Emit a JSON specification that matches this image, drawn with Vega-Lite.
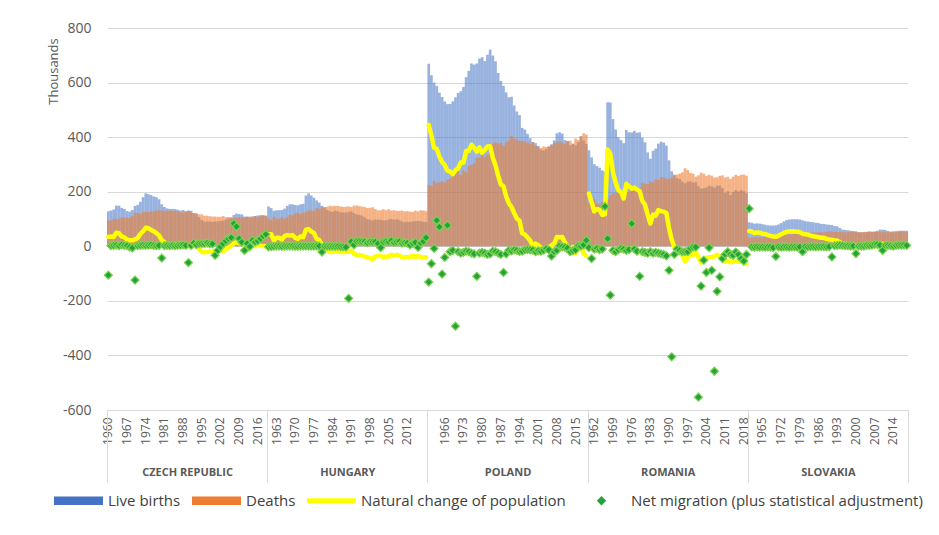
{
"$schema": "https://vega.github.io/schema/vega-lite/v6.json",
"width": 801, "height": 382,
"autosize": {"type": "none"},
"padding": {"left": 107, "top": 28, "right": 31, "bottom": 125},
"background": "white",
"config": {"font": "Open Sans", "view": {"stroke": null}},
"layer": [
{
"data": {"values": [
{"c":"CZ","y":1960,"b":128,"d":94,"n":34,"m":-106},
{"c":"CZ","y":1961,"b":131,"d":95,"n":36,"m":2},
{"c":"CZ","y":1962,"b":135,"d":101,"n":34,"m":3},
{"c":"CZ","y":1963,"b":149,"d":99,"n":50,"m":4},
{"c":"CZ","y":1964,"b":149,"d":101,"n":48,"m":2},
{"c":"CZ","y":1965,"b":141,"d":105,"n":36,"m":5},
{"c":"CZ","y":1966,"b":137,"d":104,"n":33,"m":3},
{"c":"CZ","y":1967,"b":129,"d":105,"n":24,"m":2},
{"c":"CZ","y":1968,"b":127,"d":105,"n":22,"m":-3},
{"c":"CZ","y":1969,"b":133,"d":111,"n":22,"m":-6},
{"c":"CZ","y":1970,"b":148,"d":123,"n":25,"m":-124},
{"c":"CZ","y":1971,"b":152,"d":122,"n":30,"m":2},
{"c":"CZ","y":1972,"b":163,"d":118,"n":45,"m":3},
{"c":"CZ","y":1973,"b":180,"d":125,"n":55,"m":4},
{"c":"CZ","y":1974,"b":194,"d":126,"n":68,"m":3},
{"c":"CZ","y":1975,"b":191,"d":125,"n":66,"m":4},
{"c":"CZ","y":1976,"b":188,"d":128,"n":60,"m":5},
{"c":"CZ","y":1977,"b":183,"d":128,"n":55,"m":3},
{"c":"CZ","y":1978,"b":180,"d":132,"n":48,"m":2},
{"c":"CZ","y":1979,"b":172,"d":132,"n":40,"m":3},
{"c":"CZ","y":1980,"b":154,"d":131,"n":23,"m":-43},
{"c":"CZ","y":1981,"b":144,"d":129,"n":15,"m":2},
{"c":"CZ","y":1982,"b":139,"d":130,"n":9,"m":3},
{"c":"CZ","y":1983,"b":137,"d":131,"n":6,"m":2},
{"c":"CZ","y":1984,"b":137,"d":130,"n":7,"m":3},
{"c":"CZ","y":1985,"b":136,"d":130,"n":6,"m":2},
{"c":"CZ","y":1986,"b":134,"d":129,"n":5,"m":3},
{"c":"CZ","y":1987,"b":131,"d":125,"n":6,"m":4},
{"c":"CZ","y":1988,"b":133,"d":124,"n":9,"m":5},
{"c":"CZ","y":1989,"b":128,"d":128,"n":0,"m":3},
{"c":"CZ","y":1990,"b":131,"d":130,"n":1,"m":-60},
{"c":"CZ","y":1991,"b":130,"d":124,"n":6,"m":3},
{"c":"CZ","y":1992,"b":122,"d":121,"n":1,"m":12},
{"c":"CZ","y":1993,"b":121,"d":118,"n":3,"m":6},
{"c":"CZ","y":1994,"b":107,"d":117,"n":-10,"m":10},
{"c":"CZ","y":1995,"b":96,"d":117,"n":-21,"m":10},
{"c":"CZ","y":1996,"b":90,"d":112,"n":-22,"m":10},
{"c":"CZ","y":1997,"b":91,"d":112,"n":-21,"m":12},
{"c":"CZ","y":1998,"b":91,"d":110,"n":-19,"m":9},
{"c":"CZ","y":1999,"b":89,"d":109,"n":-20,"m":9},
{"c":"CZ","y":2000,"b":91,"d":109,"n":-18,"m":-33},
{"c":"CZ","y":2001,"b":91,"d":108,"n":-17,"m":-15},
{"c":"CZ","y":2002,"b":93,"d":108,"n":-15,"m":-2},
{"c":"CZ","y":2003,"b":94,"d":111,"n":-17,"m":10},
{"c":"CZ","y":2004,"b":98,"d":107,"n":-9,"m":20},
{"c":"CZ","y":2005,"b":102,"d":107,"n":-5,"m":28},
{"c":"CZ","y":2006,"b":106,"d":104,"n":2,"m":32},
{"c":"CZ","y":2007,"b":115,"d":104,"n":11,"m":83},
{"c":"CZ","y":2008,"b":120,"d":105,"n":15,"m":72},
{"c":"CZ","y":2009,"b":118,"d":107,"n":11,"m":28},
{"c":"CZ","y":2010,"b":117,"d":106,"n":11,"m":15},
{"c":"CZ","y":2011,"b":109,"d":106,"n":3,"m":-15},
{"c":"CZ","y":2012,"b":109,"d":108,"n":1,"m":10},
{"c":"CZ","y":2013,"b":106,"d":109,"n":-3,"m":-1},
{"c":"CZ","y":2014,"b":110,"d":105,"n":5,"m":22},
{"c":"CZ","y":2015,"b":111,"d":111,"n":0,"m":16},
{"c":"CZ","y":2016,"b":113,"d":107,"n":6,"m":20},
{"c":"CZ","y":2017,"b":114,"d":112,"n":2,"m":28},
{"c":"CZ","y":2018,"b":114,"d":113,"n":1,"m":38},
{"c":"CZ","y":2019,"b":112,"d":112,"n":0,"m":44},
{"c":"HU","y":1960,"b":146,"d":102,"n":44,"m":-2},
{"c":"HU","y":1961,"b":140,"d":96,"n":44,"m":-1},
{"c":"HU","y":1962,"b":130,"d":108,"n":22,"m":0},
{"c":"HU","y":1963,"b":132,"d":101,"n":31,"m":1},
{"c":"HU","y":1964,"b":132,"d":101,"n":31,"m":1},
{"c":"HU","y":1965,"b":133,"d":108,"n":25,"m":0},
{"c":"HU","y":1966,"b":138,"d":101,"n":37,"m":1},
{"c":"HU","y":1967,"b":148,"d":107,"n":41,"m":1},
{"c":"HU","y":1968,"b":154,"d":115,"n":39,"m":1},
{"c":"HU","y":1969,"b":154,"d":113,"n":41,"m":1},
{"c":"HU","y":1970,"b":151,"d":120,"n":31,"m":0},
{"c":"HU","y":1971,"b":150,"d":123,"n":27,"m":0},
{"c":"HU","y":1972,"b":154,"d":118,"n":36,"m":1},
{"c":"HU","y":1973,"b":156,"d":123,"n":33,"m":1},
{"c":"HU","y":1974,"b":186,"d":125,"n":61,"m":1},
{"c":"HU","y":1975,"b":194,"d":131,"n":63,"m":1},
{"c":"HU","y":1976,"b":186,"d":132,"n":54,"m":1},
{"c":"HU","y":1977,"b":178,"d":129,"n":49,"m":1},
{"c":"HU","y":1978,"b":168,"d":140,"n":28,"m":1},
{"c":"HU","y":1979,"b":160,"d":137,"n":23,"m":1},
{"c":"HU","y":1980,"b":148,"d":145,"n":3,"m":-21},
{"c":"HU","y":1981,"b":142,"d":144,"n":-2,"m":0},
{"c":"HU","y":1982,"b":133,"d":145,"n":-12,"m":0},
{"c":"HU","y":1983,"b":128,"d":149,"n":-21,"m":0},
{"c":"HU","y":1984,"b":126,"d":147,"n":-21,"m":0},
{"c":"HU","y":1985,"b":130,"d":148,"n":-18,"m":0},
{"c":"HU","y":1986,"b":128,"d":148,"n":-20,"m":0},
{"c":"HU","y":1987,"b":125,"d":146,"n":-21,"m":-1},
{"c":"HU","y":1988,"b":124,"d":144,"n":-20,"m":-2},
{"c":"HU","y":1989,"b":124,"d":145,"n":-21,"m":-3},
{"c":"HU","y":1990,"b":126,"d":146,"n":-20,"m":-191},
{"c":"HU","y":1991,"b":128,"d":144,"n":-16,"m":17},
{"c":"HU","y":1992,"b":122,"d":149,"n":-27,"m":5},
{"c":"HU","y":1993,"b":117,"d":150,"n":-33,"m":18},
{"c":"HU","y":1994,"b":115,"d":147,"n":-32,"m":18},
{"c":"HU","y":1995,"b":112,"d":146,"n":-34,"m":17},
{"c":"HU","y":1996,"b":106,"d":144,"n":-38,"m":17},
{"c":"HU","y":1997,"b":100,"d":140,"n":-40,"m":13},
{"c":"HU","y":1998,"b":97,"d":141,"n":-44,"m":16},
{"c":"HU","y":1999,"b":95,"d":143,"n":-48,"m":16},
{"c":"HU","y":2000,"b":98,"d":136,"n":-38,"m":16},
{"c":"HU","y":2001,"b":97,"d":132,"n":-35,"m":10},
{"c":"HU","y":2002,"b":97,"d":132,"n":-35,"m":-5},
{"c":"HU","y":2003,"b":95,"d":136,"n":-41,"m":16},
{"c":"HU","y":2004,"b":95,"d":132,"n":-37,"m":18},
{"c":"HU","y":2005,"b":98,"d":136,"n":-38,"m":17},
{"c":"HU","y":2006,"b":100,"d":131,"n":-31,"m":21},
{"c":"HU","y":2007,"b":97,"d":132,"n":-35,"m":14},
{"c":"HU","y":2008,"b":99,"d":130,"n":-31,"m":16},
{"c":"HU","y":2009,"b":96,"d":130,"n":-34,"m":17},
{"c":"HU","y":2010,"b":91,"d":131,"n":-40,"m":12},
{"c":"HU","y":2011,"b":88,"d":128,"n":-40,"m":13},
{"c":"HU","y":2012,"b":90,"d":129,"n":-39,"m":12},
{"c":"HU","y":2013,"b":89,"d":127,"n":-38,"m":5},
{"c":"HU","y":2014,"b":91,"d":126,"n":-35,"m":11},
{"c":"HU","y":2015,"b":92,"d":131,"n":-39,"m":14},
{"c":"HU","y":2016,"b":93,"d":128,"n":-35,"m":-4},
{"c":"HU","y":2017,"b":92,"d":132,"n":-40,"m":12},
{"c":"HU","y":2018,"b":90,"d":131,"n":-41,"m":18},
{"c":"HU","y":2019,"b":89,"d":129,"n":-40,"m":32},
{"c":"PL","y":1960,"b":669,"d":224,"n":445,"m":-131},
{"c":"PL","y":1961,"b":627,"d":221,"n":406,"m":-64},
{"c":"PL","y":1962,"b":600,"d":239,"n":361,"m":-8},
{"c":"PL","y":1963,"b":588,"d":231,"n":357,"m":95},
{"c":"PL","y":1964,"b":563,"d":234,"n":329,"m":71},
{"c":"PL","y":1965,"b":547,"d":238,"n":309,"m":-102},
{"c":"PL","y":1966,"b":531,"d":233,"n":298,"m":-41},
{"c":"PL","y":1967,"b":521,"d":244,"n":277,"m":77},
{"c":"PL","y":1968,"b":522,"d":248,"n":274,"m":-20},
{"c":"PL","y":1969,"b":531,"d":267,"n":264,"m":-15},
{"c":"PL","y":1970,"b":546,"d":267,"n":279,"m":-293},
{"c":"PL","y":1971,"b":562,"d":277,"n":285,"m":-20},
{"c":"PL","y":1972,"b":568,"d":261,"n":307,"m":-25},
{"c":"PL","y":1973,"b":584,"d":278,"n":306,"m":-22},
{"c":"PL","y":1974,"b":620,"d":271,"n":349,"m":-18},
{"c":"PL","y":1975,"b":643,"d":294,"n":349,"m":-20},
{"c":"PL","y":1976,"b":670,"d":298,"n":372,"m":-25},
{"c":"PL","y":1977,"b":666,"d":305,"n":361,"m":-28},
{"c":"PL","y":1978,"b":670,"d":324,"n":346,"m":-110},
{"c":"PL","y":1979,"b":688,"d":325,"n":363,"m":-25},
{"c":"PL","y":1980,"b":693,"d":350,"n":343,"m":-22},
{"c":"PL","y":1981,"b":679,"d":326,"n":353,"m":-25},
{"c":"PL","y":1982,"b":702,"d":336,"n":366,"m":-30},
{"c":"PL","y":1983,"b":721,"d":354,"n":367,"m":-28},
{"c":"PL","y":1984,"b":699,"d":375,"n":324,"m":-18},
{"c":"PL","y":1985,"b":678,"d":381,"n":297,"m":-20},
{"c":"PL","y":1986,"b":635,"d":376,"n":259,"m":-25},
{"c":"PL","y":1987,"b":606,"d":379,"n":227,"m":-30},
{"c":"PL","y":1988,"b":588,"d":368,"n":220,"m":-96},
{"c":"PL","y":1989,"b":564,"d":381,"n":183,"m":-28},
{"c":"PL","y":1990,"b":546,"d":388,"n":158,"m":-15},
{"c":"PL","y":1991,"b":548,"d":404,"n":144,"m":-17},
{"c":"PL","y":1992,"b":516,"d":394,"n":122,"m":-13},
{"c":"PL","y":1993,"b":494,"d":392,"n":102,"m":-15},
{"c":"PL","y":1994,"b":481,"d":387,"n":94,"m":-19},
{"c":"PL","y":1995,"b":434,"d":386,"n":48,"m":-18},
{"c":"PL","y":1996,"b":428,"d":385,"n":43,"m":-13},
{"c":"PL","y":1997,"b":412,"d":380,"n":32,"m":-12},
{"c":"PL","y":1998,"b":396,"d":375,"n":21,"m":-13},
{"c":"PL","y":1999,"b":382,"d":382,"n":0,"m":-14},
{"c":"PL","y":2000,"b":378,"d":368,"n":10,"m":-20},
{"c":"PL","y":2001,"b":368,"d":364,"n":4,"m":-17},
{"c":"PL","y":2002,"b":354,"d":360,"n":-6,"m":-18},
{"c":"PL","y":2003,"b":351,"d":366,"n":-15,"m":-14},
{"c":"PL","y":2004,"b":356,"d":364,"n":-8,"m":-9},
{"c":"PL","y":2005,"b":364,"d":368,"n":-4,"m":-13},
{"c":"PL","y":2006,"b":374,"d":370,"n":4,"m":-36},
{"c":"PL","y":2007,"b":388,"d":378,"n":10,"m":-20},
{"c":"PL","y":2008,"b":414,"d":380,"n":34,"m":-15},
{"c":"PL","y":2009,"b":418,"d":385,"n":33,"m":1},
{"c":"PL","y":2010,"b":413,"d":379,"n":34,"m":-2},
{"c":"PL","y":2011,"b":389,"d":375,"n":14,"m":-4},
{"c":"PL","y":2012,"b":386,"d":385,"n":1,"m":-7},
{"c":"PL","y":2013,"b":370,"d":387,"n":-17,"m":-20},
{"c":"PL","y":2014,"b":375,"d":377,"n":-2,"m":-16},
{"c":"PL","y":2015,"b":370,"d":395,"n":-25,"m":-13},
{"c":"PL","y":2016,"b":382,"d":389,"n":-7,"m":2},
{"c":"PL","y":2017,"b":403,"d":403,"n":0,"m":1},
{"c":"PL","y":2018,"b":388,"d":414,"n":-26,"m":5},
{"c":"PL","y":2019,"b":375,"d":410,"n":-35,"m":22},
{"c":"RO","y":1960,"b":352,"d":159,"n":193,"m":-5},
{"c":"RO","y":1961,"b":326,"d":164,"n":162,"m":-45},
{"c":"RO","y":1962,"b":301,"d":173,"n":128,"m":-10},
{"c":"RO","y":1963,"b":294,"d":157,"n":137,"m":-8},
{"c":"RO","y":1964,"b":288,"d":155,"n":133,"m":-12},
{"c":"RO","y":1965,"b":278,"d":163,"n":115,"m":-10},
{"c":"RO","y":1966,"b":274,"d":157,"n":117,"m":146},
{"c":"RO","y":1967,"b":528,"d":173,"n":355,"m":28},
{"c":"RO","y":1968,"b":527,"d":188,"n":339,"m":-179},
{"c":"RO","y":1969,"b":466,"d":194,"n":272,"m":-15},
{"c":"RO","y":1970,"b":428,"d":194,"n":234,"m":-20},
{"c":"RO","y":1971,"b":400,"d":194,"n":206,"m":-12},
{"c":"RO","y":1972,"b":389,"d":190,"n":199,"m":-8},
{"c":"RO","y":1973,"b":378,"d":203,"n":175,"m":-10},
{"c":"RO","y":1974,"b":426,"d":197,"n":229,"m":-15},
{"c":"RO","y":1975,"b":418,"d":198,"n":220,"m":-12},
{"c":"RO","y":1976,"b":417,"d":206,"n":211,"m":83},
{"c":"RO","y":1977,"b":423,"d":208,"n":215,"m":-10},
{"c":"RO","y":1978,"b":416,"d":208,"n":208,"m":-18},
{"c":"RO","y":1979,"b":418,"d":216,"n":202,"m":-110},
{"c":"RO","y":1980,"b":398,"d":232,"n":166,"m":-20},
{"c":"RO","y":1981,"b":381,"d":229,"n":152,"m":-22},
{"c":"RO","y":1982,"b":344,"d":228,"n":116,"m":-25},
{"c":"RO","y":1983,"b":321,"d":238,"n":83,"m":-20},
{"c":"RO","y":1984,"b":350,"d":234,"n":116,"m":-25},
{"c":"RO","y":1985,"b":358,"d":246,"n":112,"m":-22},
{"c":"RO","y":1986,"b":376,"d":243,"n":133,"m":-25},
{"c":"RO","y":1987,"b":383,"d":254,"n":129,"m":-28},
{"c":"RO","y":1988,"b":380,"d":253,"n":127,"m":-30},
{"c":"RO","y":1989,"b":369,"d":247,"n":122,"m":-35},
{"c":"RO","y":1990,"b":315,"d":248,"n":67,"m":-88},
{"c":"RO","y":1991,"b":275,"d":251,"n":24,"m":-405},
{"c":"RO","y":1992,"b":260,"d":263,"n":-3,"m":-30},
{"c":"RO","y":1993,"b":250,"d":263,"n":-13,"m":-10},
{"c":"RO","y":1994,"b":247,"d":266,"n":-19,"m":-15},
{"c":"RO","y":1995,"b":237,"d":271,"n":-34,"m":-20},
{"c":"RO","y":1996,"b":231,"d":286,"n":-55,"m":-20},
{"c":"RO","y":1997,"b":237,"d":279,"n":-42,"m":-20},
{"c":"RO","y":1998,"b":238,"d":269,"n":-31,"m":-7},
{"c":"RO","y":1999,"b":234,"d":266,"n":-32,"m":-3},
{"c":"RO","y":2000,"b":235,"d":255,"n":-20,"m":-3},
{"c":"RO","y":2001,"b":220,"d":260,"n":-40,"m":-553},
{"c":"RO","y":2002,"b":211,"d":270,"n":-59,"m":-146},
{"c":"RO","y":2003,"b":213,"d":266,"n":-53,"m":-51},
{"c":"RO","y":2004,"b":216,"d":258,"n":-42,"m":-96},
{"c":"RO","y":2005,"b":222,"d":262,"n":-40,"m":-5},
{"c":"RO","y":2006,"b":220,"d":259,"n":-39,"m":-88},
{"c":"RO","y":2007,"b":215,"d":252,"n":-37,"m":-458},
{"c":"RO","y":2008,"b":222,"d":253,"n":-31,"m":-165},
{"c":"RO","y":2009,"b":222,"d":258,"n":-36,"m":-112},
{"c":"RO","y":2010,"b":213,"d":260,"n":-47,"m":-45},
{"c":"RO","y":2011,"b":196,"d":252,"n":-56,"m":-30},
{"c":"RO","y":2012,"b":202,"d":255,"n":-53,"m":-20},
{"c":"RO","y":2013,"b":188,"d":247,"n":-59,"m":-30},
{"c":"RO","y":2014,"b":199,"d":255,"n":-56,"m":-33},
{"c":"RO","y":2015,"b":206,"d":262,"n":-56,"m":-21},
{"c":"RO","y":2016,"b":201,"d":258,"n":-57,"m":-30},
{"c":"RO","y":2017,"b":206,"d":262,"n":-56,"m":-45},
{"c":"RO","y":2018,"b":202,"d":263,"n":-61,"m":-54},
{"c":"RO","y":2019,"b":194,"d":259,"n":-65,"m":-30},
{"c":"SK","y":1960,"b":88,"d":32,"n":56,"m":138},
{"c":"SK","y":1961,"b":86,"d":32,"n":54,"m":-2},
{"c":"SK","y":1962,"b":83,"d":35,"n":48,"m":-3},
{"c":"SK","y":1963,"b":84,"d":33,"n":51,"m":-2},
{"c":"SK","y":1964,"b":83,"d":33,"n":50,"m":-3},
{"c":"SK","y":1965,"b":81,"d":35,"n":46,"m":-2},
{"c":"SK","y":1966,"b":79,"d":34,"n":45,"m":-3},
{"c":"SK","y":1967,"b":77,"d":36,"n":41,"m":-2},
{"c":"SK","y":1968,"b":76,"d":38,"n":38,"m":-3},
{"c":"SK","y":1969,"b":76,"d":40,"n":36,"m":-5},
{"c":"SK","y":1970,"b":77,"d":42,"n":35,"m":-37},
{"c":"SK","y":1971,"b":80,"d":42,"n":38,"m":-2},
{"c":"SK","y":1972,"b":85,"d":41,"n":44,"m":-3},
{"c":"SK","y":1973,"b":91,"d":42,"n":49,"m":-2},
{"c":"SK","y":1974,"b":96,"d":43,"n":53,"m":-2},
{"c":"SK","y":1975,"b":98,"d":44,"n":54,"m":-3},
{"c":"SK","y":1976,"b":99,"d":44,"n":55,"m":-2},
{"c":"SK","y":1977,"b":99,"d":45,"n":54,"m":-2},
{"c":"SK","y":1978,"b":99,"d":46,"n":53,"m":-3},
{"c":"SK","y":1979,"b":98,"d":46,"n":52,"m":-2},
{"c":"SK","y":1980,"b":95,"d":49,"n":46,"m":-20},
{"c":"SK","y":1981,"b":92,"d":48,"n":44,"m":-1},
{"c":"SK","y":1982,"b":91,"d":48,"n":43,"m":-2},
{"c":"SK","y":1983,"b":89,"d":50,"n":39,"m":-1},
{"c":"SK","y":1984,"b":88,"d":51,"n":37,"m":-1},
{"c":"SK","y":1985,"b":86,"d":51,"n":35,"m":-2},
{"c":"SK","y":1986,"b":85,"d":52,"n":33,"m":-1},
{"c":"SK","y":1987,"b":82,"d":51,"n":31,"m":-1},
{"c":"SK","y":1988,"b":82,"d":51,"n":31,"m":-1},
{"c":"SK","y":1989,"b":80,"d":53,"n":27,"m":-2},
{"c":"SK","y":1990,"b":79,"d":54,"n":25,"m":-1},
{"c":"SK","y":1991,"b":78,"d":54,"n":24,"m":-39},
{"c":"SK","y":1992,"b":74,"d":53,"n":21,"m":2},
{"c":"SK","y":1993,"b":73,"d":52,"n":21,"m":3},
{"c":"SK","y":1994,"b":67,"d":52,"n":15,"m":4},
{"c":"SK","y":1995,"b":61,"d":52,"n":9,"m":3},
{"c":"SK","y":1996,"b":60,"d":51,"n":9,"m":2},
{"c":"SK","y":1997,"b":59,"d":52,"n":7,"m":2},
{"c":"SK","y":1998,"b":57,"d":53,"n":4,"m":1},
{"c":"SK","y":1999,"b":56,"d":52,"n":4,"m":1},
{"c":"SK","y":2000,"b":55,"d":52,"n":3,"m":-27},
{"c":"SK","y":2001,"b":51,"d":52,"n":-1,"m":1},
{"c":"SK","y":2002,"b":51,"d":52,"n":-1,"m":1},
{"c":"SK","y":2003,"b":51,"d":53,"n":-2,"m":1},
{"c":"SK","y":2004,"b":53,"d":52,"n":1,"m":3},
{"c":"SK","y":2005,"b":54,"d":54,"n":0,"m":3},
{"c":"SK","y":2006,"b":53,"d":53,"n":0,"m":4},
{"c":"SK","y":2007,"b":54,"d":53,"n":1,"m":7},
{"c":"SK","y":2008,"b":57,"d":53,"n":4,"m":7},
{"c":"SK","y":2009,"b":61,"d":53,"n":8,"m":4},
{"c":"SK","y":2010,"b":61,"d":53,"n":8,"m":-15},
{"c":"SK","y":2011,"b":60,"d":51,"n":9,"m":3},
{"c":"SK","y":2012,"b":56,"d":52,"n":4,"m":3},
{"c":"SK","y":2013,"b":54,"d":52,"n":2,"m":2},
{"c":"SK","y":2014,"b":55,"d":51,"n":4,"m":1},
{"c":"SK","y":2015,"b":55,"d":54,"n":1,"m":3},
{"c":"SK","y":2016,"b":57,"d":52,"n":5,"m":4},
{"c":"SK","y":2017,"b":57,"d":54,"n":3,"m":4},
{"c":"SK","y":2018,"b":57,"d":54,"n":3,"m":4},
{"c":"SK","y":2019,"b":57,"d":53,"n":4,"m":3}
]},
"transform": [{"calculate": "datum.c + datum.y", "as": "k"}],
"layer": [
{"mark": {"type": "bar", "opacity": 0.55},
 "encoding": {
  "x": {"field": "k", "type": "ordinal", "title": null, "sort": "ascending",
   "scale": {"type": "band", "paddingInner": 0, "paddingOuter": 0},
   "axis": {"ticks": false, "grid": false, "domain": true, "domainColor": "#d9d9d9", "labelAngle": 270, "labelFontSize": 12, "labelColor": "#595959", "labelPadding": 7, "labelOverlap": false, "labelBound": false,
    "labelExpr": "(indexof(['CZ','HU','PL','RO','SK'], slice(datum.value,0,2))*60 + toNumber(slice(datum.value,2)) - 1960) % 7 == 0 && toNumber(slice(datum.value,2)) < 2019 ? slice(datum.value,2) : ''"}},
  "y": {"field": "b", "type": "quantitative", "title": "Thousands",
   "scale": {"domain": [-600, 800], "nice": false, "zero": false},
   "axis": {"values": [-600, -400, -200, 0, 200, 400, 600, 800], "labelExpr": "'' + datum.value", "ticks": false, "domain": false, "gridColor": "#d9d9d9", "labelFontSize": 14, "labelColor": "#595959", "labelPadding": 16, "titleX": -54, "titleY": 43, "titleAngle": 270, "titleAlign": "center", "titleBaseline": "middle", "titleFontSize": 13, "titleFontWeight": "normal", "titleColor": "#595959"}},
  "color": {"datum": "Live births", "type": "nominal",
   "scale": {"domain": ["Live births", "Deaths", "Natural change of population", "Net migration (plus statistical adjustment)"], "range": ["#4472C4", "#ED7D31", "#FFFF00", "#22A33B"]},
   "legend": {"orient": "none", "legendX": -53, "legendY": 448, "direction": "horizontal", "title": null, "labelFontSize": 15, "labelColor": "#404040", "labelLimit": 500, "symbolSize": 2401, "labelOffset": 5, "columnPadding": 11, "symbolOpacity": 1, "symbolStrokeWidth": 0,
    "encoding": {"symbols": {
      "shape": {"value": {"expr": "datum.value == 'Net migration (plus statistical adjustment)' ? 'M0,-0.19L0.19,0L0,0.19L-0.19,0Z' : datum.value == 'Natural change of population' ? 'M-1,-0.1H1V0.1H-1Z' : 'M-1,-0.17H1V0.17H-1Z'"}},
      "size": {"value": 2401},
      "fill": {"value": {"expr": "scale('color', datum.value)"}},
      "opacity": {"value": 1},
      "fillOpacity": {"value": 1},
      "strokeWidth": {"value": 0}}}}}
 }},
{"mark": {"type": "bar", "opacity": 0.6},
 "encoding": {
  "x": {"field": "k", "type": "ordinal"},
  "y": {"field": "d", "type": "quantitative", "title": "Thousands"},
  "color": {"datum": "Deaths", "type": "nominal"}}},
{"mark": {"type": "line", "strokeWidth": 4.5, "strokeCap": "round", "strokeJoin": "round"},
 "encoding": {
  "x": {"field": "k", "type": "ordinal"},
  "y": {"field": "n", "type": "quantitative", "title": "Thousands"},
  "detail": {"field": "c"},
  "color": {"datum": "Natural change of population", "type": "nominal"}}},
{"mark": {"type": "point", "shape": "diamond", "filled": true, "size": 65, "stroke": "#7fd24f", "strokeWidth": 1.2, "opacity": 1},
 "encoding": {
  "x": {"field": "k", "type": "ordinal"},
  "y": {"field": "m", "type": "quantitative", "title": "Thousands"},
  "color": {"datum": "Net migration (plus statistical adjustment)", "type": "nominal"}}}
]
},
{
"data": {"values": [{"country": "CZECH REPUBLIC"}, {"country": "HUNGARY"}, {"country": "POLAND"}, {"country": "ROMANIA"}, {"country": "SLOVAKIA"}]},
"mark": {"type": "rule", "opacity": 0},
"encoding": {
 "x": {"field": "country", "type": "nominal", "title": null,
  "scale": {"type": "band", "paddingInner": 0, "paddingOuter": 0},
  "axis": {"orient": "bottom", "domain": false, "grid": false, "ticks": true, "tickBand": "extent", "tickSize": 72, "tickColor": "#d9d9d9", "tickWidth": 1, "labelAngle": 0, "labelPadding": -16, "labelFontSize": 11, "labelFontWeight": "bold", "labelColor": "#595959"}}}
}
],
"resolve": {"scale": {"x": "independent"}, "axis": {"x": "independent"}}
}
